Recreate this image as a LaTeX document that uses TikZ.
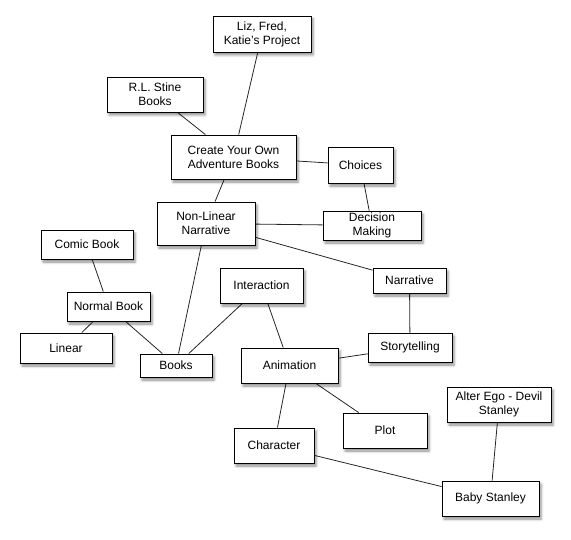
\documentclass[tikz,border=0pt]{standalone}
\usepackage{fontspec}
\setmainfont{Liberation Sans}
\usetikzlibrary{shadows.blur,backgrounds}
\tikzset{
  box/.style={draw=black, line width=0.9pt, fill=white, inner sep=0pt, align=center,
    font=\fontsize{12}{14}\selectfont,
    blur shadow={shadow xshift=2pt, shadow yshift=-3pt, shadow blur radius=2.5pt, shadow opacity=45}},
  link/.style={draw=black!85, line width=0.8pt}
}
\begin{document}
\begin{tikzpicture}[x=1pt,y=-1pt]
\useasboundingbox (0,0) rectangle (571,540);
\node[box, minimum width=98pt, minimum height=36pt] (liz) at (262,34) {Liz, Fred,\\Katie's Project};
\node[box, minimum width=96pt, minimum height=35pt] (rl) at (155,94.5) {R.L. Stine\\Books};
\node[box, minimum width=125pt, minimum height=44pt] (create) at (233.5,157) {Create Your Own\\Adventure Books};
\node[box, minimum width=65pt, minimum height=36pt] (choices) at (360.5,165) {Choices};
\node[box, minimum width=98pt, minimum height=29pt] (decision) at (372,225.5) {Decision\\Making};
\node[box, minimum width=98pt, minimum height=43pt] (nonlinear) at (206,223.5) {Non-Linear\\Narrative};
\node[box, minimum width=92pt, minimum height=29pt] (comic) at (87,244.5) {Comic Book};
\node[box, minimum width=83pt, minimum height=29pt] (normal) at (108.5,306.5) {Normal Book};
\node[box, minimum width=92pt, minimum height=30pt] (linear) at (66,348) {Linear};
\node[box, minimum width=72pt, minimum height=23pt] (books) at (176,365.5) {Books};
\node[box, minimum width=83pt, minimum height=35pt] (interaction) at (261.5,285.5) {Interaction};
\node[box, minimum width=73pt, minimum height=25pt] (narrative) at (409.5,280.5) {Narrative};
\node[box, minimum width=84pt, minimum height=29pt] (storytelling) at (410,347.5) {Storytelling};
\node[box, minimum width=97pt, minimum height=35pt] (animation) at (289.5,365.5) {Animation};
\node[box, minimum width=84pt, minimum height=35pt] (plot) at (385,430.5) {Plot};
\node[box, minimum width=80pt, minimum height=35pt] (character) at (274,445.5) {Character};
\node[box, minimum width=104pt, minimum height=35pt] (alter) at (499,404.5) {Alter Ego - Devil\\Stanley};
\node[box, minimum width=97pt, minimum height=35pt] (baby) at (490.5,498.5) {Baby Stanley};
\begin{scope}[on background layer]
\draw[link] (liz) -- (create);
\draw[link] (rl) -- (create);
\draw[link] (create) -- (choices);
\draw[link] (choices) -- (decision);
\draw[link] (create) -- (nonlinear);
\draw[link] (nonlinear) -- (decision);
\draw[link] (nonlinear) -- (narrative);
\draw[link] (nonlinear) -- (books);
\draw[link] (comic) -- (normal);
\draw[link] (normal) -- (linear);
\draw[link] (normal) -- (books);
\draw[link] (interaction) -- (books);
\draw[link] (interaction) -- (animation);
\draw[link] (narrative) -- (storytelling);
\draw[link] (storytelling) -- (animation);
\draw[link] (animation) -- (character);
\draw[link] (animation) -- (plot);
\draw[link] (character) -- (baby);
\draw[link] (alter) -- (baby);
\end{scope}
\end{tikzpicture}
\end{document}
